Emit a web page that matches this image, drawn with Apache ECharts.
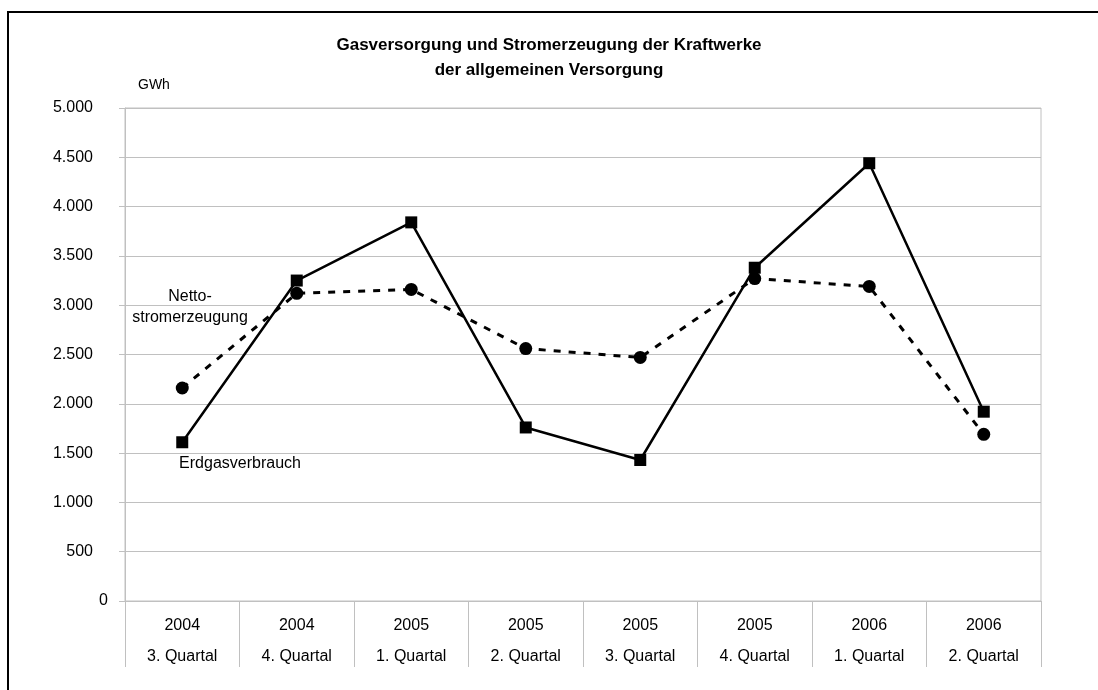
<!DOCTYPE html>
<html>
<head>
<meta charset="utf-8">
<script src="https://cdn.jsdelivr.net/npm/echarts@6/dist/echarts.min.js"></script>
<style>
html,body{margin:0;padding:0;background:#fff;}
#chart{width:1098px;height:690px;}
</style>
</head>
<body>
<div id="chart"></div>
<script>
var years = ['2004','2004','2005','2005','2005','2005','2006','2006'];
var quarters = ['3. Quartal','4. Quartal','1. Quartal','2. Quartal','3. Quartal','4. Quartal','1. Quartal','2. Quartal'];
var erdgasverbrauch = [1610, 3250, 3840, 1760, 1430, 3380, 4440, 1920];
var nettostromerzeugung = [2160, 3120, 3160, 2560, 2470, 3270, 3190, 1690];
var yMin = 0, yMax = 5000, yStep = 500;

var categories = years.map(function(y, i){ return y + '\n' + quarters[i]; });
var FONT = '"Liberation Sans", Arial, sans-serif';
var GRAY = '#c0c0c0';

function fmt(v){
  return String(v).replace(/\B(?=(\d{3})+(?!\d))/g, '.');
}

var chart = echarts.init(document.getElementById('chart'), null, {renderer:'canvas'});
chart.setOption({
  animation: false,
  backgroundColor: '#fff',
  textStyle: {fontFamily: FONT},
  grid: {left: 125, right: 57, top: 108, bottom: 89, show: true, borderColor: GRAY, borderWidth: 1},
  xAxis: {
    type: 'category',
    data: categories,
    boundaryGap: true,
    axisLine: {show: true, lineStyle: {color: GRAY, width: 1}},
    axisTick: {show: true, interval: 0, length: 66, lineStyle: {color: GRAY, width: 1}},
    axisLabel: {interval: 0, margin: 9, color: '#000', fontFamily: FONT, fontSize: 16, lineHeight: 31}
  },
  yAxis: {
    type: 'value',
    min: yMin, max: yMax, interval: yStep,
    axisLine: {show: true, lineStyle: {color: GRAY, width: 1}},
    axisTick: {show: true, length: 6, lineStyle: {color: GRAY, width: 1}},
    splitLine: {show: true, lineStyle: {color: GRAY, width: 1}},
    axisLabel: {
      margin: 17, color: '#000', fontFamily: FONT, fontSize: 16,
      formatter: function(v){ return v === 0 ? '0' : '{a|' + fmt(v) + '}'; },
      rich: {a: {fontFamily: FONT, fontSize: 16, color: '#000', padding: [0, 15, 0, 0]}}
    }
  },
  graphic: [
    {type: 'rect', z: -1, silent: true, shape: {x: 8, y: 12, width: 1200, height: 800},
     style: {fill: 'none', stroke: '#000', lineWidth: 2}},
    {type: 'text', x: 549, y: 45, style: {text: 'Gasversorgung und Stromerzeugung der Kraftwerke', font: 'bold 17px ' + FONT, fill: '#000', textAlign: 'center', textVerticalAlign: 'middle'}},
    {type: 'text', x: 549, y: 70, style: {text: 'der allgemeinen Versorgung', font: 'bold 17px ' + FONT, fill: '#000', textAlign: 'center', textVerticalAlign: 'middle'}},
    {type: 'text', x: 138, y: 85, style: {text: 'GWh', font: '14px ' + FONT, fill: '#000', textAlign: 'left', textVerticalAlign: 'middle'}},
    {type: 'text', x: 190, y: 297, style: {text: 'Netto-', font: '16px ' + FONT, fill: '#000', textAlign: 'center', textVerticalAlign: 'middle'}},
    {type: 'text', x: 190, y: 318, style: {text: 'stromerzeugung', font: '16px ' + FONT, fill: '#000', textAlign: 'center', textVerticalAlign: 'middle'}},
    {type: 'text', x: 240, y: 464, style: {text: 'Erdgasverbrauch', font: '16px ' + FONT, fill: '#000', textAlign: 'center', textVerticalAlign: 'middle'}}
  ],
  series: [
    {
      name: 'Nettostromerzeugung',
      type: 'line',
      data: nettostromerzeugung,
      symbol: 'circle',
      symbolSize: 13,
      itemStyle: {color: '#000'},
      lineStyle: {color: '#000', width: 3, type: [7, 8]},
      z: 2
    },
    {
      name: 'Erdgasverbrauch',
      type: 'line',
      data: erdgasverbrauch,
      symbol: 'rect',
      symbolSize: 12,
      itemStyle: {color: '#000'},
      lineStyle: {color: '#000', width: 2.5, type: 'solid'},
      z: 3
    }
  ]
});
</script>
</body>
</html>
